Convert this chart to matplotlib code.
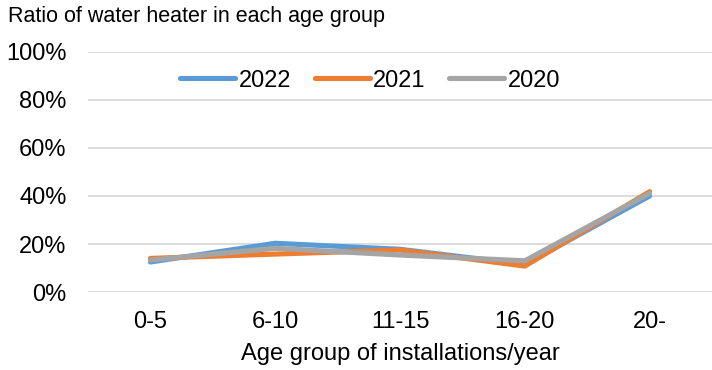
import matplotlib
matplotlib.use("Agg")
import matplotlib.pyplot as plt
from matplotlib.ticker import PercentFormatter

plt.rcParams['font.family'] = ['Liberation Sans', 'DejaVu Sans']

# share of water heaters per age group (percent)
age_groups = ['0-5', '6-10', '11-15', '16-20', '20-']
ratio_2022 = [12.5, 20.3, 17.8, 11.5, 40.0]
ratio_2021 = [14.0, 15.8, 17.5, 10.8, 41.8]
ratio_2020 = [13.3, 18.2, 15.4, 13.0, 41.1]

colors = {'2022': '#5B9BD5', '2021': '#ED7D31', '2020': '#A5A5A5'}
fs = 17

fig = plt.figure(figsize=(7.12, 3.70), dpi=100)
ax = fig.add_axes([0.1236, 0.2108, 0.8764, 0.6487])

x = range(len(age_groups))
for label, vals in [('2022', ratio_2022), ('2021', ratio_2021), ('2020', ratio_2020)]:
    ax.plot(x, vals, color=colors[label], lw=3.7, solid_capstyle='round',
            solid_joinstyle='round', label=label)

ax.set_xlim(-0.5, len(age_groups) - 0.5)
ax.set_ylim(0, 100)
ax.set_yticks(range(0, 101, 20))
ax.yaxis.set_major_formatter(PercentFormatter(decimals=0))
ax.set_xticks(list(x))
ax.set_xticklabels(age_groups)
ax.grid(axis='y', color='#D9D9D9', lw=1.3)
ax.set_axisbelow(True)
for s in ax.spines.values():
    s.set_visible(False)
ax.tick_params(length=0, labelsize=fs, colors='black')
ax.tick_params(axis='y', pad=15.5)
ax.tick_params(axis='x', pad=14)

ax.set_xlabel('Age group of installations/year', fontsize=fs, labelpad=7)
fig.text(0.011, 0.955, 'Ratio of water heater in each age group', fontsize=15.5,
         va='center', ha='left')

ax.legend(loc='upper center', bbox_to_anchor=(0.452, 1.015), ncol=3, frameon=False,
          fontsize=fs, handlelength=2.33, handletextpad=0.15, columnspacing=1.0)

fig.savefig('out.png', dpi=100)
